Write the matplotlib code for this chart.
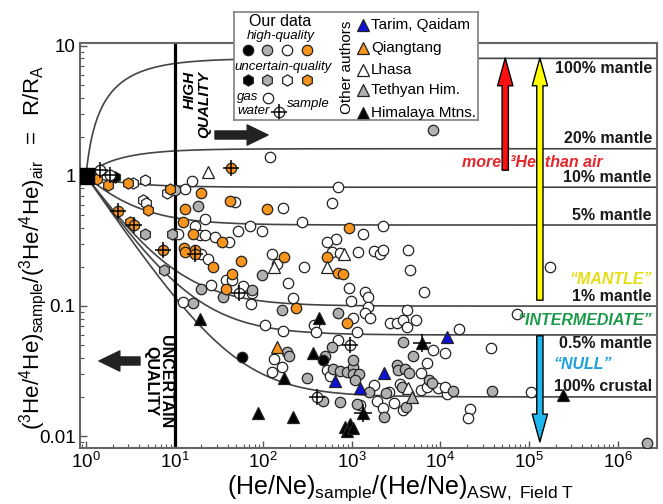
import numpy as np
import matplotlib
matplotlib.use('Agg')
import matplotlib.pyplot as plt
from matplotlib.ticker import FixedLocator, FixedFormatter, LogLocator, LogFormatterMathtext, NullFormatter

plt.rcParams['font.family'] = ['Liberation Sans', 'DejaVu Sans']
plt.rcParams['mathtext.fontset'] = 'custom'
plt.rcParams['mathtext.rm'] = 'Liberation Sans'
plt.rcParams['mathtext.it'] = 'Liberation Sans:italic'
plt.rcParams['mathtext.bf'] = 'Liberation Sans:bold'
plt.rcParams['mathtext.default'] = 'rm'

# ---- data: (He/Ne) ratio and R/RA ----
# our data, high quality gas samples (circles)
hq_white_x = [10.9, 13.1, 15.7, 22, 17, 19.4, 22, 28.6, 41, 52, 71, 97, 19.9, 24, 38, 44, 26, 59, 75, 73,
              12.4, 48, 167, 119, 274, 126, 143, 289, 190, 217, 105, 167, 374, 395, 700, 598, 2250, 1340,
              663, 525, 598, 736, 1175, 1780, 2080, 2250, 4310, 4540, 6530, 930, 1410, 1520, 980, 1520,
              1410, 1600, 1030, 2700, 3240, 3780, 4200, 5300, 4200, 16200, 1150, 700, 8260, 11300, 37200,
              132, 163, 126, 525, 568, 1780, 1920, 2630, 3500, 2990, 3780, 2250, 1240, 6040, 7060, 6040,
              7060, 9400, 11900, 11300, 21600, 20500, 105000, 173000, 73000]
hq_white_y = [0.36, 0.79, 0.92, 0.47, 0.41, 0.35, 0.35, 0.34, 0.31, 0.38, 0.41, 0.38, 0.25, 0.23, 0.158,
              0.158, 0.145, 0.143, 0.126, 0.104, 0.107, 0.63, 0.57, 1.4, 0.44, 0.25, 0.21, 0.20, 0.15,
              0.115, 0.071, 0.064, 0.071, 0.063, 0.82, 0.62, 0.41, 0.36, 0.33, 0.31, 0.26, 0.256, 0.26,
              0.265, 0.25, 0.27, 0.27, 0.19, 0.128, 0.137, 0.128, 0.117, 0.109, 0.098, 0.088, 0.081,
              0.081, 0.074, 0.074, 0.078, 0.093, 0.078, 0.069, 0.067, 0.063, 0.055, 0.046, 0.0435,
              0.0475, 0.039, 0.034, 0.031, 0.032, 0.029, 0.0247, 0.0186, 0.0218, 0.0251, 0.0179, 0.0158,
              0.0164, 0.0173, 0.0305, 0.0365, 0.0226, 0.0238, 0.0234, 0.021, 0.0238, 0.0161, 0.0138,
              0.0218, 0.20, 0.087]
hq_gray_x = [10.1, 18.4, 19.9, 35, 75, 16.1, 97, 163, 8260, 700, 3780, 4850, 598, 500, 186, 196, 312,
             614, 736, 883, 1030, 1030, 1205, 1090, 1030, 1560, 2430, 3240, 3330, 3990, 4420, 3690,
             4090, 2310, 1150, 736, 473, 7430, 8040, 13900, 38200, 2.15e6]
hq_gray_y = [0.78, 0.59, 0.135, 0.117, 0.133, 0.105, 0.173, 0.093, 2.26, 0.088, 0.053, 0.041, 0.048,
             0.041, 0.044, 0.041, 0.028, 0.033, 0.0316, 0.031, 0.034, 0.030, 0.030, 0.027, 0.0385,
             0.0218, 0.0214, 0.0352, 0.032, 0.0325, 0.0305, 0.0238, 0.0167, 0.014, 0.0176, 0.0183,
             0.0186, 0.027, 0.0256, 0.0222, 0.0222, 0.0088]
hq_black_x = [473, 58]
hq_black_y = [0.0385, 0.0405]
hq_orange_x = [20, 13.1, 42, 110, 12.4, 16.1, 34, 12.8, 13.1, 17, 27, 56, 172, 44, 38, 235, 930, 525,
               700, 796, 883]
hq_orange_y = [0.74, 0.56, 0.64, 0.56, 0.44, 0.36, 0.31, 0.28, 0.26, 0.27, 0.20, 0.22, 0.24, 0.176,
               0.135, 0.097, 0.40, 0.24, 0.18, 0.176, 0.074]

# our data, uncertain quality (hexagons)
uq_orange_x = [1.2, 1.33, 1.77, 2.98, 5.0, 3.14, 8.9]
uq_orange_y = [0.98, 0.95, 0.85, 0.88, 0.55, 0.44, 0.79]
uq_white_x = [3.4, 4.6, 4.4, 4.7, 8.2]
uq_white_y = [0.88, 0.93, 0.65, 0.62, 0.74]
uq_gray_x = [4.6, 7.6, 9.4]
uq_gray_y = [0.36, 0.19, 0.36]
uq_black_x = [2.1]
uq_black_y = [0.98]

# water samples (crosshair)
water_white_x = [1.44, 1.87, 53, 405, 955]
water_white_y = [1.11, 1.02, 0.126, 0.020, 0.050]
water_orange_x = [2.3, 3.5, 7.4, 17, 43]
water_orange_y = [0.54, 0.42, 0.27, 0.25, 1.15]

# other authors (triangles)
tarim_x = [646, 1240, 2310, 11900]
tarim_y = [0.0265, 0.0234, 0.0305, 0.058]
qiangtang_x = [143]
qiangtang_y = [0.048]
lhasa_x = [24, 817, 525, 132, 4310]
lhasa_y = [1.07, 0.25, 0.20, 0.20, 0.0234]
tethyan_x = [4780]
tethyan_y = [0.020]
himalaya_x = [19.4, 427, 365, 172, 87, 217, 242000, 838, 955, 883, 1030]
himalaya_y = [0.079, 0.081, 0.0435, 0.028, 0.015, 0.014, 0.0207, 0.0117, 0.0124, 0.0109, 0.0115]
himalaya_water_x = [6200, 1340]
himalaya_water_y = [0.052, 0.015]

# air and mixing end-members
air_x, air_y = 1.0, 1.0
mantle_ra = 8.0
crust_ra = 0.02
mantle_pct = [100, 20, 10, 5, 1, 0.5, 0]
quality_cut = 10

x_major = [1, 10, 100, 1e3, 1e4, 1e5, 1e6]
y_major = [0.01, 0.1, 1, 10]
y_major_labels = ['0.01', '0.1', '1', '10']

ORANGE = '#f7941d'
GRAY = '#b0b0b0'
BLUE = '#1010d8'
EDGE = '#222222'

fig = plt.figure(figsize=(6.63, 5.04), dpi=100)
ax = fig.add_axes([80 / 663, 56 / 504, 577 / 663, 405 / 504])
ax.set_xscale('log')
ax.set_yscale('log')
ax.set_xlim(0.856, 2.79e6)
ax.set_ylim(0.0081, 10.5)

# mixing curves between air and the crust/mantle sources
xx = np.logspace(0, 6.5, 500)
for p in mantle_pct:
    f = p / 100.0
    rs = f * mantle_ra + (1 - f) * crust_ra
    ax.plot(xx, 1 / xx + (1 - 1 / xx) * rs, color='#444444', lw=1.2, zorder=1)

ax.axvline(quality_cut, color='black', lw=2.3, zorder=2)

mk = dict(linestyle='none', mec=EDGE, mew=0.9, zorder=3)
for xs, ys, c in [(hq_white_x, hq_white_y, 'white'), (hq_gray_x, hq_gray_y, GRAY),
                  (hq_orange_x, hq_orange_y, ORANGE), (hq_black_x, hq_black_y, 'black')]:
    ax.plot(xs, ys, 'o', ms=7.5, mfc=c, **mk)
for xs, ys, c in [(uq_white_x, uq_white_y, 'white'), (uq_gray_x, uq_gray_y, GRAY),
                  (uq_orange_x, uq_orange_y, ORANGE), (uq_black_x, uq_black_y, 'black')]:
    ax.plot(xs, ys, 'h', ms=8, mfc=c, **mk)
for xs, ys, c in [(water_white_x, water_white_y, 'white'), (water_orange_x, water_orange_y, ORANGE)]:
    ax.plot(xs, ys, 'o', ms=7.5, mfc=c, **mk)
    ax.plot(xs, ys, '+', ms=11, mec='black', mew=1.1, linestyle='none', zorder=3)
for xs, ys, c in [(lhasa_x, lhasa_y, 'white'), (tarim_x, tarim_y, BLUE), (qiangtang_x, qiangtang_y, ORANGE),
                  (tethyan_x, tethyan_y, GRAY), (himalaya_x, himalaya_y, 'black'),
                  (himalaya_water_x, himalaya_water_y, 'black')]:
    ax.plot(xs, ys, '^', ms=8, mfc=c, **mk)
ax.plot(himalaya_water_x, himalaya_water_y, '+', ms=13, mec='black', mew=1.1, linestyle='none', zorder=3)
ax.plot(air_x, air_y, 's', ms=12, mfc='black', mec='black', zorder=3)

# axes styling
for s in ax.spines.values():
    s.set_color('#666666')
    s.set_linewidth(1.5)
ax.xaxis.set_major_locator(FixedLocator(x_major))
ax.xaxis.set_major_formatter(LogFormatterMathtext())
ax.xaxis.set_minor_locator(LogLocator(base=10, subs=np.arange(2, 10), numticks=20))
ax.xaxis.set_minor_formatter(NullFormatter())
ax.yaxis.set_major_locator(FixedLocator(y_major))
ax.yaxis.set_major_formatter(FixedFormatter(y_major_labels))
ax.yaxis.set_minor_locator(LogLocator(base=10, subs=np.arange(2, 10), numticks=20))
ax.yaxis.set_minor_formatter(NullFormatter())
ax.tick_params(which='both', direction='in', colors='#555555', labelcolor='black', labelsize=13.5)
ax.tick_params(which='major', length=5, width=1, pad=3)
ax.tick_params(which='minor', length=3, width=0.8)

ax.set_xlabel(r'$(He/Ne)_{sample}/(He/Ne)_{ASW,\ Field\ T}$', fontsize=18)
ax.xaxis.set_label_coords(0.555, -0.062)
ax.set_ylabel(r'$({}^{3}He/{}^{4}He)_{sample}/({}^{3}He/{}^{4}He)_{air}\ \ =\ \ R/R_{A}$', fontsize=16)
ax.yaxis.set_label_coords(-0.053, 0.496)

# labels of the mixing lines
right_labels = [('100% mantle', 0.936), ('20% mantle', 0.765), ('10% mantle', 0.667),
                ('5% mantle', 0.573), ('1% mantle', 0.373), ('0.5% mantle', 0.259),
                ('100% crustal', 0.151)]
for txt, fy in right_labels:
    ax.text(0.991, fy, txt, transform=ax.transAxes, ha='right', va='center',
            fontsize=11.5, fontweight='bold', color='#1a1a1a', zorder=4)
ax.text(0.991, 0.415, '\u201cMANTLE\u201d', transform=ax.transAxes, ha='right', va='center',
        fontsize=11.5, fontweight='bold', style='italic', color='#e6de14', zorder=4)
ax.text(0.991, 0.316, '\u201cINTERMEDIATE\u201d', transform=ax.transAxes, ha='right', va='center',
        fontsize=11.5, fontweight='bold', style='italic', color='#1c9a4a', zorder=4)
ax.text(0.872, 0.205, '\u201cNULL\u201d', transform=ax.transAxes, ha='center', va='center',
        fontsize=11.5, fontweight='bold', style='italic', color='#1e9fdc', zorder=4)
ax.text((462 - 80) / 577, (448 - 163) / 405, 'more  \u00b3He  than air', transform=ax.transAxes,
        ha='left', va='center', fontsize=11.5, fontweight='bold', style='italic', color='#e3262b', zorder=4)

ax.text(0.203, 0.849, 'HIGH\nQUALITY', transform=ax.transAxes, rotation=90, ha='center', va='center',
        fontsize=11, fontweight='bold', style='italic', linespacing=1.0, multialignment='right', zorder=4)
ax.text(0.135, 0.165, 'UNCERTAIN\nQUALITY', transform=ax.transAxes, rotation=-90, ha='center',
        va='center', fontsize=11.5, fontweight='bold', linespacing=1.0, zorder=4)

# arrows
def arrow(x0, y0, x1, y1, fc, style, ec='black', lw=1.0):
    ax.annotate('', xy=(x1, y1), xytext=(x0, y0), xycoords='axes fraction', textcoords='axes fraction',
                arrowprops=dict(arrowstyle=style, fc=fc, ec=ec, lw=lw, shrinkA=0, shrinkB=0,
                                mutation_scale=10), zorder=5)

blk = 'simple,head_length=1.5,head_width=1.45,tail_width=0.58'
arrow((215 - 80) / 577, (448 - 135) / 405, (268 - 80) / 577, (448 - 135) / 405, '#222222', blk, ec='#222222')
arrow((140 - 80) / 577, (448 - 361) / 405, (99 - 80) / 577, (448 - 361) / 405, '#222222', blk, ec='#222222')
col = 'simple,head_length=2.0,head_width=1.1,tail_width=0.45'
arrow(0.737, 0.686, 0.737, 0.963, '#ff1010', col)
arrow(0.797, 0.365, 0.797, 0.963, '#ffff00', col)
arrow(0.797, 0.277, 0.797, 0.015, '#1fb8ee', col)

# legend box
lg = fig.add_axes([234 / 663, 1 - 120 / 504, 244 / 663, 108 / 504])
lg.set_xlim(234, 478)
lg.set_ylim(120, 12)
lg.set_xticks([])
lg.set_yticks([])
for s in lg.spines.values():
    s.set_color('#808080')
    s.set_linewidth(1.2)
fill_colors = ['black', GRAY, 'white', ORANGE]
key_x = [248, 267, 287, 307]
lg.text(280, 22, 'Our data', ha='center', va='center', fontsize=11.5)
lg.text(281, 36, 'high-quality', ha='center', va='center', fontsize=9.5, style='italic')
lg.text(283, 67, 'uncertain-quality', ha='center', va='center', fontsize=9.5, style='italic')
for kx, c in zip(key_x, fill_colors):
    lg.plot(kx, 50, 'o', ms=7.5, mfc=c, mec=EDGE, mew=0.9)
    lg.plot(kx, 80, 'h', ms=8, mfc=c, mec=EDGE, mew=0.9)
lg.text(248, 97, 'gas', ha='center', va='center', fontsize=9.5, style='italic')
lg.plot(268, 98, 'o', ms=7.5, mfc='white', mec=EDGE, mew=0.9)
lg.text(254, 111, 'water', ha='center', va='center', fontsize=9.5, style='italic')
lg.plot(279, 112, 'o', ms=7.5, mfc='white', mec=EDGE, mew=0.9)
lg.plot(279, 112, '+', ms=11, mec='black', mew=1.1)
lg.text(308, 104, 'sample', ha='center', va='center', fontsize=9.5, style='italic')
lg.text(347, 67, 'Other authors', ha='center', va='center', rotation=90, fontsize=11)
tri_labels = ['Tarim, Qaidam', 'Qiangtang', 'Lhasa', 'Tethyan Him.', 'Himalaya Mtns.']
tri_colors = [BLUE, ORANGE, 'white', GRAY, 'black']
tri_y = [25, 48, 70, 90, 113]
for ty, c, t in zip(tri_y, tri_colors, tri_labels):
    lg.plot(363, ty, '^', ms=8, mfc=c, mec=EDGE, mew=0.9)
    lg.text(371, ty, t, ha='left', va='center', fontsize=11)

fig.savefig('out.png', dpi=100)
